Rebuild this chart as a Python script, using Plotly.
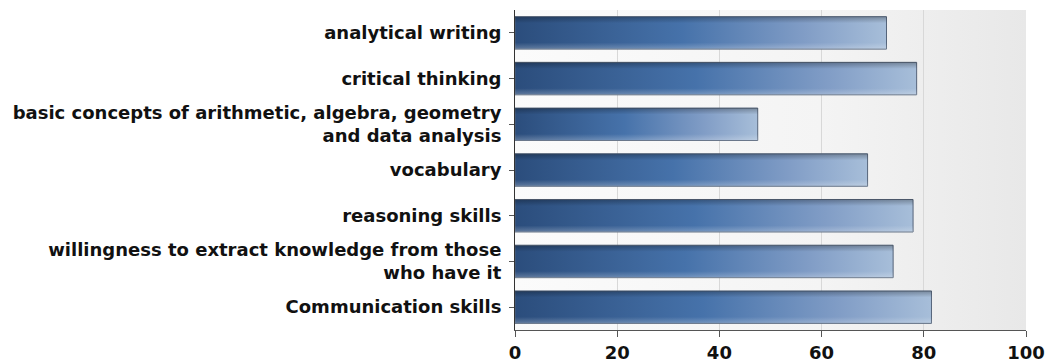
import base64
import plotly.graph_objects as go

# ---- data ----
categories = [
    "analytical writing",
    "critical thinking",
    "basic concepts of arithmetic, algebra, geometry<br>and data analysis",
    "vocabulary",
    "reasoning skills",
    "willingness to extract knowledge from those<br>who have it",
    "Communication skills",
]
values = [72.7, 78.6, 47.5, 69.0, 77.9, 74.0, 81.5]
x_ticks = [0, 20, 40, 60, 80, 100]

# ---- style ----
FONT = "DejaVu Sans"
FSIZE = 18
HALF = 0.355  # half bar thickness in category units

bar_scale = [[0.0, "#2b4d7c"], [0.45, "#4672aa"], [0.78, "#819dc6"], [1.0, "#a7bed9"]]
shade_scale = [
    [0.0, "rgba(255,255,255,0.25)"],
    [0.2, "rgba(255,255,255,0.0)"],
    [0.8, "rgba(0,0,0,0.0)"],
    [1.0, "rgba(0,0,0,0.28)"],
]

fig = go.Figure()
for i, (cat, val) in enumerate(zip(categories, values)):
    xs = [0, val, val, 0, 0]
    ys = [i - HALF, i - HALF, i + HALF, i + HALF, i - HALF]
    fig.add_trace(go.Scatter(
        x=xs, y=ys, fill="toself", mode="lines",
        line=dict(color="#55647a", width=1),
        fillgradient=dict(type="horizontal", colorscale=bar_scale),
        hoveron="fills", hoverinfo="text",
        text=f"{cat.replace('<br>', ' ')}: {val}",
        showlegend=False,
    ))
    fig.add_trace(go.Scatter(
        x=xs, y=ys, fill="toself", mode="none",
        fillgradient=dict(type="vertical", colorscale=shade_scale),
        hoverinfo="skip", showlegend=False,
    ))

bg_svg = (
    '<svg xmlns="http://www.w3.org/2000/svg" width="200" height="100" preserveAspectRatio="none">'
    '<defs><linearGradient id="g" x1="0" x2="1" y1="0" y2="0">'
    '<stop offset="0" stop-color="#fbfbfb"/><stop offset="0.6" stop-color="#f4f4f4"/>'
    '<stop offset="1" stop-color="#e8e8e8"/></linearGradient></defs>'
    '<rect width="200" height="100" fill="url(#g)"/></svg>'
)
bg_src = "data:image/svg+xml;base64," + base64.b64encode(bg_svg.encode()).decode()

fig.update_layout(
    width=1047, height=362,
    margin=dict(l=515, r=21, t=10, b=32),
    paper_bgcolor="white",
    plot_bgcolor="#f4f4f4",
    font=dict(family=FONT, size=FSIZE, color="#111111"),
    images=[dict(
        source=bg_src, xref="x domain", yref="y domain",
        x=0, y=1, sizex=1, sizey=1, xanchor="left", yanchor="top",
        sizing="stretch", layer="below",
    )],
    xaxis=dict(
        range=[0, 100], tickvals=x_ticks, ticktext=[str(t) for t in x_ticks],
        showline=True, linecolor="#555555", linewidth=1,
        ticks="outside", ticklen=6, tickcolor="#555555",
        showgrid=True, gridcolor="#d8d8d8", gridwidth=1,
        zeroline=False, automargin=False,
        tickfont=dict(family=FONT, size=FSIZE, weight="bold", color="#111111"),
    ),
    yaxis=dict(
        range=[6.5, -0.5], tickvals=list(range(len(categories))), ticktext=categories,
        showline=True, linecolor="#333333", linewidth=1,
        ticks="outside", ticklen=5, tickcolor="#555555",
        ticklabelstandoff=4,
        showgrid=False, zeroline=False, automargin=False,
        tickfont=dict(family=FONT, size=FSIZE, weight="bold", color="#111111"),
    ),
)

# remove the default 8px page margin so the figure fills the window exactly
fig.write_html(
    "out.html",
    config={"displayModeBar": False},
    post_script="document.body.style.margin='0';",
)
